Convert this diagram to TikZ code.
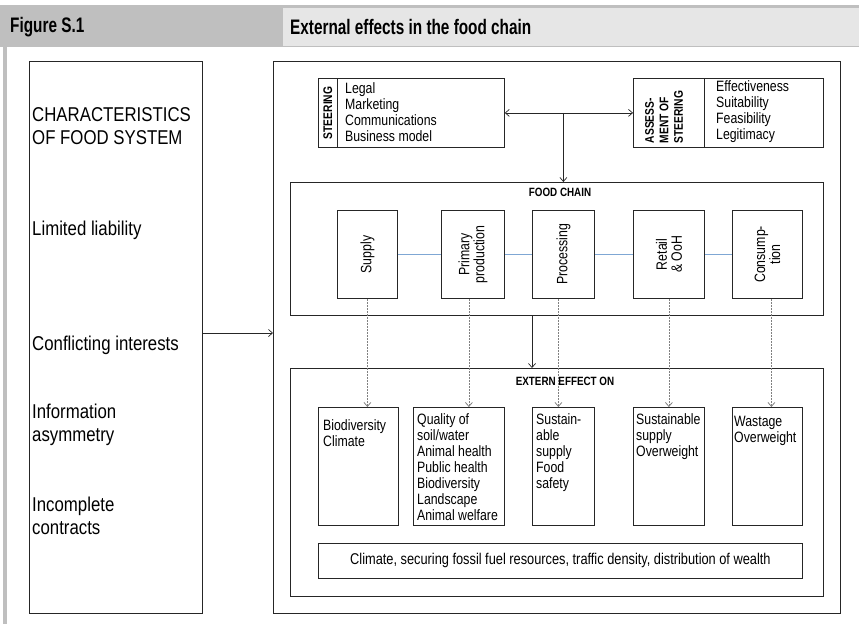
\documentclass[tikz,border=0pt]{standalone}
\usepackage{fontspec}
\setmainfont{Liberation Sans}[FakeStretch=0.82]
\newfontfamily\headfont{Liberation Sans}[FakeStretch=0.73]
\newfontfamily\sidefont{Liberation Sans}[FakeStretch=0.84]
\usepackage{xcolor}
\usetikzlibrary{arrows.meta, positioning, calc}
\definecolor{HD_DARK} {HTML}{BFBFBF}
\definecolor{HD_LIGHT}{HTML}{E6E6E6}
\definecolor{LNK}     {HTML}{7FA7D4}
\definecolor{LN}      {HTML}{262626}
\newcommand{\fsz}[2]{\fontsize{#1}{#2}\selectfont}
\tikzset{
  %% -- plain rectangle, placed by its top-left corner --
  FC/frame/.style={draw=LN, line width=0.8pt, inner sep=0pt, anchor=north west},
  %% -- text in the left column --
  FC/side/.style={anchor=west, align=left, inner sep=0pt, font=\sidefont\fsz{20}{23}},
  %% -- lists inside the boxes --
  FC/list/.style={anchor=north west, align=left, inner sep=0pt, font=\fsz{15}{16}},
  %% -- bold headings --
  FC/head/.style={inner sep=0pt, font=\bfseries\fsz{12}{14}},
  %% -- rotated stage labels --
  FC/vlbl/.style={rotate=90, align=center, inner sep=0pt, font=\fsz{15}{15}},
  %% -- figure header --
  FC/title/.style={anchor=west, inner sep=0pt, font=\headfont\bfseries\fsz{21}{22}},
  %% -- connectors --
  FC/arr/.style={-{Straight Barb[length=4pt, width=7pt]}, line width=0.7pt, draw=LN},
  FC/dash/.style={-{Straight Barb[length=4pt, width=7pt]}, line width=0.8pt,
    draw=gray, dash pattern=on 2pt off 1pt},
  FC/link/.style={draw=LNK, line width=0.9pt},
}
\begin{document}
\begin{tikzpicture}[x=1pt, y=-1pt]
\useasboundingbox (0,0) rectangle (859,624);

%% ── Header band ──────────────────────────────────────────────
\fill[HD_DARK] (0,5) rectangle (859,47);
\fill[HD_LIGHT] (283,8) rectangle (859,46);
\fill[HD_DARK] (3,47) rectangle (7,624);
\node[FC/title] (fig) at (10,27) {Figure S.1};
\node[FC/title] (title) at (290,27) {External effects in the food chain};

%% ── Left column: characteristics ─────────────────────────────
\node[FC/frame, minimum width=173pt, minimum height=552pt] (charbox) at (29,61) {};
\node[FC/side] (c0) at (32,126.5) {CHARACTERISTICS\\OF FOOD SYSTEM};
\node[FC/side] (c1) at (32,230) {Limited liability};
\node[FC/side] (c2) at (32,345) {Conflicting interests};
\node[FC/side] (c3) at (32,425) {Information\\asymmetry};
\node[FC/side] (c4) at (32,516) {Incomplete\\contracts};

%% ── Right column: outer frame ────────────────────────────────
\node[FC/frame, minimum width=567pt, minimum height=552pt] (mainbox) at (273,61) {};
\coordinate (cfl) at (202,333);
\draw[FC/arr] (cfl) -- (cfl -| mainbox.west);

%% ── Steering and its assessment ──────────────────────────────
\node[FC/frame, minimum width=19pt, minimum height=69pt] (steerlab) at (318,78) {};
\node[FC/frame, minimum width=167pt, minimum height=69pt] (steerlist) at (337,78) {};
\node[FC/head, rotate=90, font=\bfseries\fsz{12.5}{13}] at (steerlab) {STEERING};
\node[FC/list, anchor=west] at (345,112)
  {Legal\\Marketing\\Communications\\Business model};

\node[FC/frame, minimum width=71pt, minimum height=69pt] (assesslab) at (633,78) {};
\node[FC/frame, minimum width=119pt, minimum height=69pt] (assesslist) at (704,78) {};
\node[FC/head, rotate=90, align=left, font=\bfseries\fsz{12.5}{14.5}] at (664,117)
  {ASSESS-\\MENT OF\\STEERING};
\node[FC/list, anchor=west] at (716,112)
  {Effectiveness\\Suitability\\Feasibility\\Legitimacy};

\draw[FC/arr, {Straight Barb[length=4pt, width=7pt]}-{Straight Barb[length=4pt, width=7pt]}]
  (steerlist.east) -- (assesslab.west);
\coordinate (split) at ($(steerlist.east)!0.457!(assesslab.west)$);

%% ── Food chain ───────────────────────────────────────────────
\node[FC/frame, minimum width=533pt, minimum height=133pt] (chain) at (290,182) {};
\node[FC/head] (chainlbl) at (560,192) {FOOD CHAIN};
\draw[FC/arr] (split) -- (split |- chain.north);

\node[FC/frame, minimum width=60pt, minimum height=88pt] (supply) at (337,210) {};
\node[FC/frame, minimum width=63pt, minimum height=88pt] (primary) at (441,210) {};
\node[FC/frame, minimum width=62pt, minimum height=88pt] (proc) at (532,210) {};
\node[FC/frame, minimum width=71pt, minimum height=88pt] (retail) at (633,210) {};
\node[FC/frame, minimum width=70pt, minimum height=88pt] (consum) at (732,210) {};
\node[FC/vlbl] at (supply) {Supply};
\node[FC/vlbl] at (primary) {Primary\\production};
\node[FC/vlbl] at (proc) {Processing};
\node[FC/vlbl] at (retail) {Retail\\\& OoH};
\node[FC/vlbl] at (consum) {Consump-\\tion};

\draw[FC/link] (supply.east) -- (primary.west);
\draw[FC/link] (primary.east) -- (proc.west);
\draw[FC/link] (proc.east) -- (retail.west);
\draw[FC/link] (retail.east) -- (consum.west);

%% ── External effects ─────────────────────────────────────────
\node[FC/frame, minimum width=533pt, minimum height=228pt] (extern) at (290,368) {};
\node[FC/head] (externlbl) at (565,381) {EXTERN EFFECT ON};
\draw[FC/arr] (proc.west |- chain.south) -- (proc.west |- extern.north);

\node[FC/frame, minimum width=80pt, minimum height=118pt] (bio) at (318,407) {};
\node[FC/frame, minimum width=91pt, minimum height=118pt] (quality) at (413,407) {};
\node[FC/frame, minimum width=62pt, minimum height=118pt] (sust) at (532,407) {};
\node[FC/frame, minimum width=71pt, minimum height=118pt] (sustsup) at (633,407) {};
\node[FC/frame, minimum width=70pt, minimum height=118pt] (waste) at (732,407) {};
\node[FC/list] at ([shift={(5pt,-12pt)}]bio.north west) {Biodiversity\\Climate};
\node[FC/list] at ([shift={(4pt,-6pt)}]quality.north west)
  {Quality of\\soil/water\\Animal health\\Public health\\Biodiversity\\Landscape\\Animal welfare};
\node[FC/list] at ([shift={(4pt,-6pt)}]sust.north west) {Sustain-\\able\\supply\\Food\\safety};
\node[FC/list] at ([shift={(3pt,-6pt)}]sustsup.north west) {Sustainable\\supply\\Overweight};
\node[FC/list] at ([shift={(2pt,-9pt)}]waste.north west) {Wastage\\Overweight};

\node[FC/frame, minimum width=484pt, minimum height=35pt] (wide) at (318,543) {};
\node[font=\fsz{15.6}{16}, inner sep=0pt] at (wide)
  {Climate, securing fossil fuel resources, traffic density, distribution of wealth};

%% ── Dotted effect arrows ─────────────────────────────────────
\draw[FC/dash] (supply.south) -- (supply.south |- bio.north);
\draw[FC/dash] ([xshift=-4pt]primary.south) -- ([xshift=-4pt]primary.south |- quality.north);
\draw[FC/dash] ([xshift=-5pt]proc.south) -- ([xshift=-5pt]proc.south |- sust.north);
\draw[FC/dash] (retail.south) -- (retail.south |- sustsup.north);
\draw[FC/dash] ([xshift=4pt]consum.south) -- ([xshift=4pt]consum.south |- waste.north);

\end{tikzpicture}
\end{document}
